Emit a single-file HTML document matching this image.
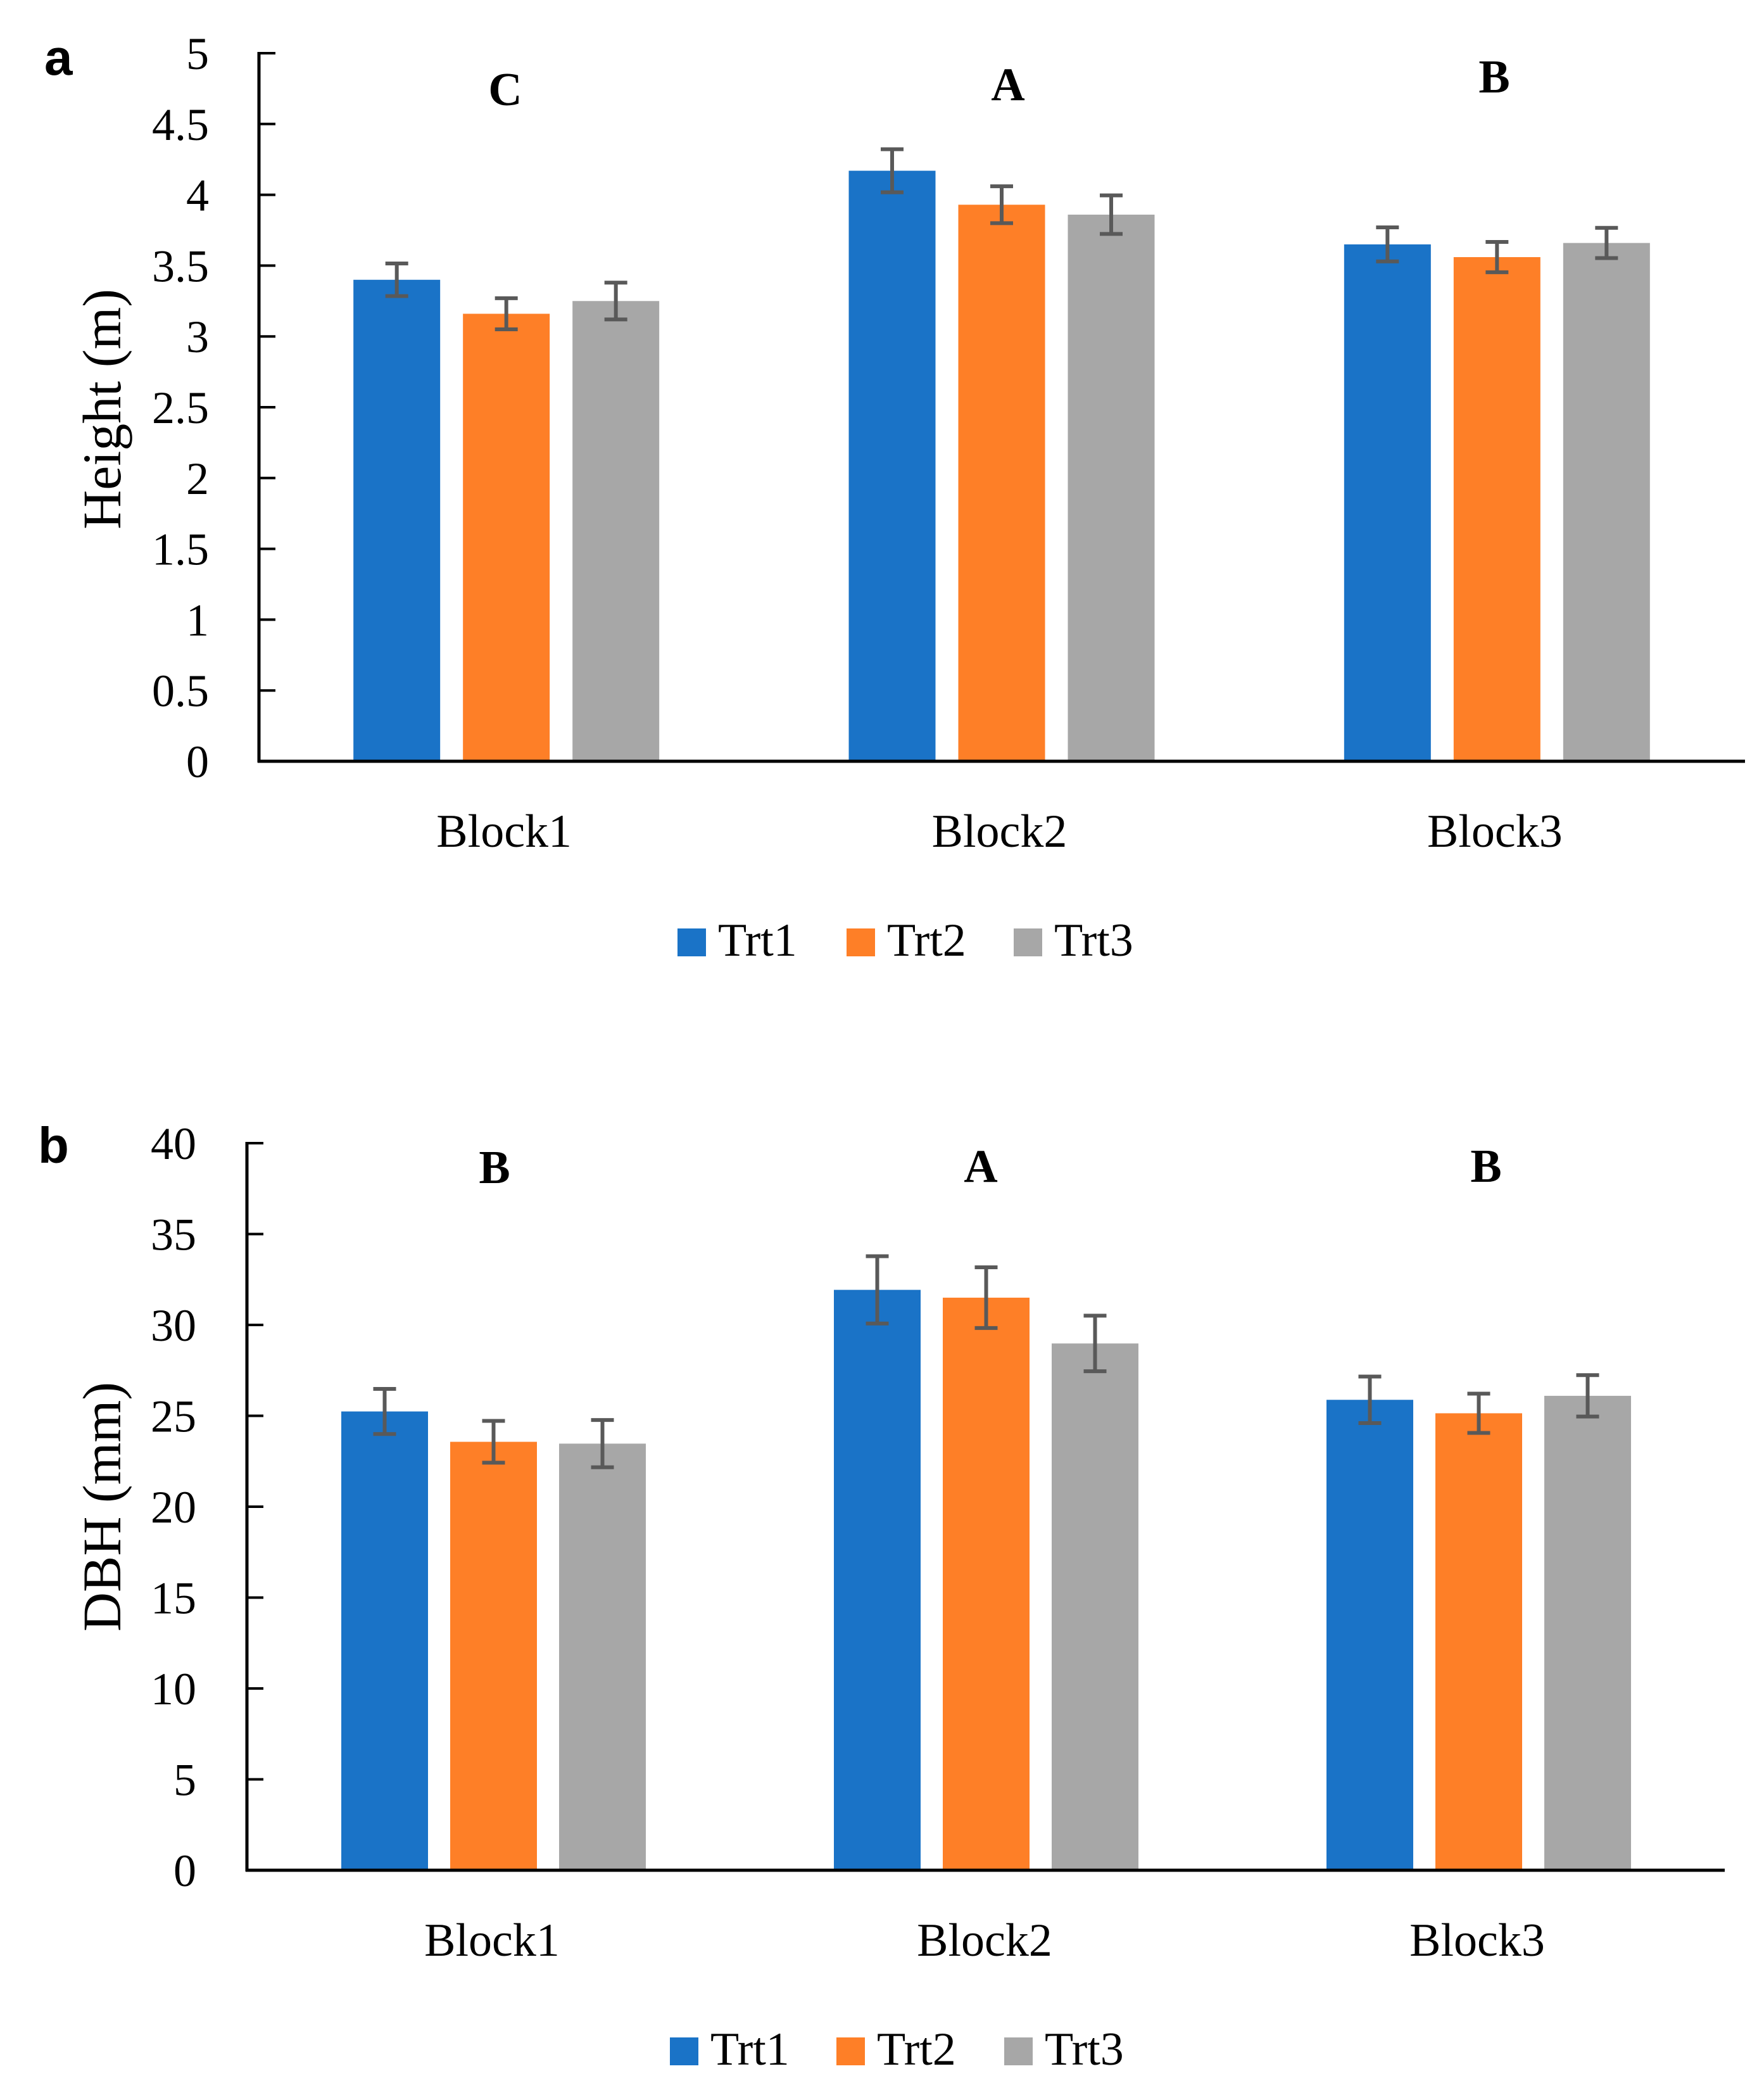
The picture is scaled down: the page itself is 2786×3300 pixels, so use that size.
<!DOCTYPE html>
<html><head><meta charset="utf-8"><style>
html,body{margin:0;padding:0;background:#fff;}
svg{display:block;font-family:"Liberation Serif",serif;}
</style></head><body>
<svg id="chart" width="2786" height="3300" viewBox="0 0 2786 3300" xmlns="http://www.w3.org/2000/svg"></svg>
<script>
const categories = ["Block1","Block2","Block3"];
const series = ["Trt1","Trt2","Trt3"];
const colors = ["#1A73C7","#FE7F27","#A7A7A7"];
const heightTrt1 = [3.40, 4.17, 3.65];
const heightTrt2 = [3.16, 3.93, 3.56];
const heightTrt3 = [3.25, 3.86, 3.66];
const heightErr1 = [0.115, 0.152, 0.12];
const heightErr2 = [0.11, 0.13, 0.107];
const heightErr3 = [0.13, 0.136, 0.107];
const heightLetters = ["C","A","B"];
const heightTicks = ["0","0.5","1","1.5","2","2.5","3","3.5","4","4.5","5"];
const dbhTrt1 = [25.24, 31.93, 25.88];
const dbhTrt2 = [23.57, 31.5, 25.14];
const dbhTrt3 = [23.47, 28.98, 26.1];
const dbhErr1 = [1.24, 1.85, 1.28];
const dbhErr2 = [1.15, 1.67, 1.08];
const dbhErr3 = [1.3, 1.53, 1.14];
const dbhLetters = ["B","A","B"];
const dbhTicks = ["0","5","10","15","20","25","30","35","40"];

const svg = document.getElementById('chart');
const NS = "http://www.w3.org/2000/svg";
function mk(tag, attrs, parent){
  const e = document.createElementNS(NS, tag);
  for (const k in attrs) e.setAttribute(k, attrs[k]);
  (parent||svg).appendChild(e); return e;
}
function txt(s, x, y, size, anchor, weight, parent, family){
  const t = mk('text', {x:x, y:y, 'font-size':size, 'text-anchor':anchor||'middle', fill:'#000'}, parent);
  if (weight) t.setAttribute('font-weight', weight);
  if (family) t.setAttribute('font-family', family);
  t.textContent = s; return t;
}

function panel(cfg){
  const g = mk('g', {});
  
  
  const yScale = v => cfg.y0 - (v / cfg.max) * (cfg.y0 - cfg.yTop);
  const catW = (cfg.xEnd - cfg.x0) / categories.length;
  cfg.ticks.forEach(tl => {
    const v = parseFloat(tl); const y = yScale(v);
    const tk = mk('line', {x1:cfg.x0, x2:cfg.x0+26, y1:y, y2:y, stroke:'#000', 'stroke-width':4}, g);
    
    
    const lb = txt(tl, cfg.tickRight, y+25, 72, 'end', null, g);
    
    
  });
  const vals = cfg.vals, errs = cfg.errs;
  categories.forEach((c, i) => {
    const cx = cfg.x0 + catW*(i+0.5);
    series.forEach((s, j) => {
      const bx = cx + cfg.barOff + j*cfg.step;
      const v = vals[j][i];
      const r = mk('rect', {x:bx, y:yScale(v), width:cfg.barW, height:cfg.y0 - yScale(v), fill:colors[j]}, g);
      
      
      const mx = bx + cfg.barW/2;
      const yt = yScale(v + errs[j][i]), yb = yScale(v - errs[j][i]);
      const eg = mk('g', {stroke:'#595959', 'stroke-width':6, fill:'none'}, g);
      
      
      mk('line', {x1:mx, x2:mx, y1:yt, y2:yb}, eg);
      mk('line', {x1:mx-18, x2:mx+18, y1:yt, y2:yt}, eg);
      mk('line', {x1:mx-18, x2:mx+18, y1:yb, y2:yb}, eg);
    });
    const cl = txt(c, cx + cfg.labOff, cfg.catY, 74, 'middle', null, g);
    
    
    const lt = txt(cfg.letters[i], cfg.letterX[i], cfg.letterY[i], 74, 'middle', 'bold', g);
    
    
  });
  const ya = mk('line', {x1:cfg.x0, x2:cfg.x0, y1:cfg.yTop-2, y2:cfg.y0+2, stroke:'#000', 'stroke-width':5}, g);
  
  
  const xa = mk('line', {x1:cfg.x0-2, x2:cfg.xEnd, y1:cfg.y0, y2:cfg.y0, stroke:'#000', 'stroke-width':5}, g);
  
  
  const yt = txt(cfg.title, 0, 0, 86, 'middle', null, g);
  yt.setAttribute('transform', 'translate(190,' + cfg.titleY + ') rotate(-90)');
  
  
  const pl = txt(cfg.panelLetter, cfg.plX, cfg.plY, 80, 'start', 'bold', g, '"Liberation Sans", sans-serif');
  
  
  series.forEach((s, j) => {
    const lg = mk('g', {}, g);
    
    
    mk('rect', {x:cfg.legX[j], y:cfg.legY, width:45, height:44, fill:colors[j]}, lg);
    txt(s, cfg.legX[j] + 64, cfg.legY + 43, 74, 'start', null, lg);
  });
}

panel({name:'panel-a-height', x0:409, xEnd:2756, y0:1202, yTop:84, max:5,
  vals:[heightTrt1,heightTrt2,heightTrt3], errs:[heightErr1,heightErr2,heightErr3],
  ticks:heightTicks, tickRight:330, barW:137, step:173, barOff:-242, labOff:-4, catY:1337,
  letters:heightLetters, letterX:[798,1592,2360], letterY:[166,158,146],
  title:'Height (m)', titleY:646, panelLetter:'a', plX:70, plY:118,
  legX:[1070,1337,1601], legY:1466});

panel({name:'panel-b-dbh', x0:390, xEnd:2724, y0:2953, yTop:1805, max:40,
  vals:[dbhTrt1,dbhTrt2,dbhTrt3], errs:[dbhErr1,dbhErr2,dbhErr3],
  ticks:dbhTicks, tickRight:310, barW:137, step:172, barOff:-240, labOff:-2, catY:3088,
  letters:dbhLetters, letterX:[781,1549,2347], letterY:[1868,1866,1866],
  title:'DBH (mm)', titleY:2379, panelLetter:'b', plX:60, plY:1836,
  legX:[1058,1321,1586], legY:3217});
</script>
</body></html>
